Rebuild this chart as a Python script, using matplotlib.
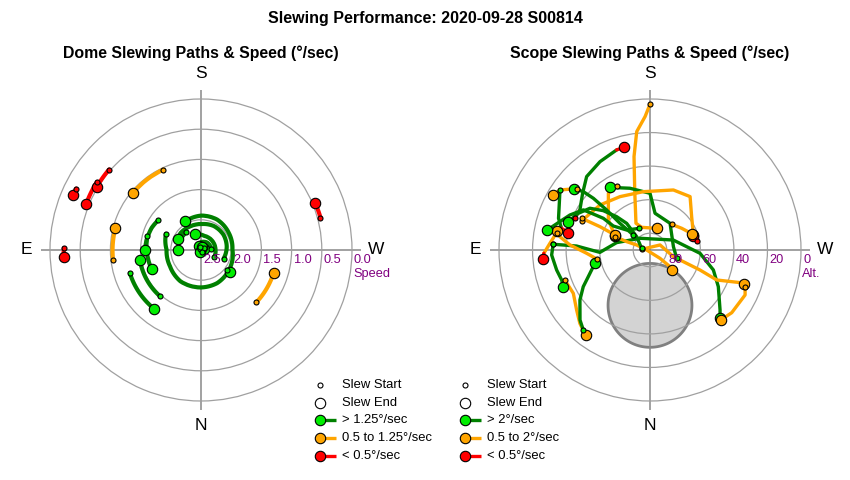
import numpy as np
import matplotlib
matplotlib.use("Agg")
import matplotlib.pyplot as plt
from matplotlib.transforms import offset_copy

plt.rcParams['font.family'] = ['Liberation Sans', 'DejaVu Sans']

# ---------------- data ----------------
title = "Slewing Performance: 2020-09-28 S00814"
dome_title = "Dome Slewing Paths & Speed (°/sec)"
scope_title = "Scope Slewing Paths & Speed (°/sec)"

# Dome slews: azimuth (deg) and speed (deg/sec) along each path
dome_az = [
    [131.2, 121.4], [123.2, 112.0], [116.2, 113.1], [90.8, 87.1], [254.8, 247.5],
    [155.0, 130.2], [83.5, 104.5], [313.4, 287.7],
    [125.0, 114.2, 102.7, 90.3], [104.4, 90.4, 79.5, 68.5], [41.5, 61.0, 80.6], [72.1, 55.0, 38.7],
    [114.8, 90.6, 62.0, 33.4, 1.0, 334.1, 305.4, 269.4, 238.4, 207.8, 181.1, 151.3],
    [290.9, 262.0, 235.9, 208.2, 181.5, 155.7, 129.4, 116.2],
    [297.7, 268.7, 228.7, 193.1, 165.7, 158.4],
    [307.1, 306.9], [140.0, 115.0, 90.6],
    [265.0, 220.0, 180.0, 147.5], [230.0, 253.3], [340.0, 18.4], [170.0, 200.6],
]
dome_speed = [
    [0.477, 0.483], [0.441, 0.451], [0.197, 0.193], [0.228, 0.225], [0.45, 0.456],
    [1.03, 1.03], [1.035, 1.037], [1.239, 1.24],
    [1.638, 1.605, 1.589, 1.572], [1.582, 1.60, 1.613, 1.622], [1.477, 1.476, 1.475], [1.262, 1.258, 1.255],
    [1.86, 1.93, 1.92, 1.88, 1.88, 1.89, 1.93, 1.98, 1.96, 1.93, 1.93, 1.96],
    [2.10, 2.07, 2.05, 2.05, 2.07, 2.07, 2.06, 2.08],
    [2.25, 2.26, 2.26, 2.26, 2.23, 2.21],
    [1.96, 1.89], [2.12, 2.12, 2.12],
    [2.33, 2.34, 2.37, 2.43], [2.44, 2.44], [2.46, 2.47], [2.45, 2.45],
]
dome_thresholds = [0.5, 1.25]

# Scope slews: azimuth (deg), altitude (deg), speed class per segment
scope_az = [
    [180, 177.9, 173.6, 170.3, 165.7, 152.3, 159.8, 197],
    [113.3, 119.7, 130.1, 139.2, 150.5, 161.6, 166],
    [287.4, 261.9, 216.9, 187.8, 180, 162, 147.4],
    [152.6, 143.7, 125.8, 112.3],
    [113, 132, 150.6, 173.5, 201.3, 216.9, 231.3, 250.9],
    [258.8, 251.4],
    [220.2, 235.6, 249.3],
    [93.4, 93.1, 87.3, 102.4, 139.4, 246.8, 273.8, 287.5, 298.2, 310.6, 314.3],
    [291.5, 295.3, 307.5, 314.7],
    [94.6, 243.4, 285.9, 290, 291.8, 294.2, 289.9, 290.1],
    [70.6, 60.5, 50.7, 43.7, 37],
    [39.8, 45, 54.5, 61.2, 66.6, 76.4],
    [80, 87, 93.6, 98.4, 101.8],
    [93.4, 87.1, 77.9, 71.2, 66.7],
    [100.5, 93.8, 88.2, 85],
    [110.9, 109.7, 110.6, 90, 309.8, 309.8, 312.7],
    [153.8, 130.6, 123.2, 124.2, 122.4, 121, 113.6, 107.5, 101],
    [101.3, 135, 138.8, 135, 130.1, 124.8, 117.1, 109.1],
    [114.9, 115, 113.2],
    [123.7, 116.4, 109.1, 103.8, 102],
    [130.2, 123.7, 119.6],
    [132, 131.6, 132.7, 132.4, 131.2, 128.9],
]
scope_alt = [
    [3.1, 10.4, 19.0, 33.5, 53.1, 72.0, 75.6, 76.5],
    [41.3, 41.9, 37.5, 32.2, 29.5, 27.1, 26.9],
    [73.3, 75.9, 70.1, 67.9, 56.2, 51.3, 45.7],
    [46.8, 48.1, 59.4, 67.4],
    [45.7, 49.9, 53.5, 55.0, 51.6, 50.2, 58.2, 62.6],
    [61.2, 63.2],
    [70.0, 67.1, 63.0],
    [32.2, 46.2, 60.1, 69.6, 80.8, 74.9, 60.1, 50.4, 43.8, 35.0, 31.7],
    [29.1, 27.3, 28.6, 30.7],
    [85.0, 83.3, 75.5, 66.7, 57.9, 46.4, 32.9, 30.3],
    [36.2, 37.5, 33.5, 29.5, 26.3],
    [27.9, 31.0, 38.7, 44.6, 49.9, 56.2],
    [58.1, 52.2, 42.2, 35.7, 33.5],
    [32.2, 31.3, 33.1, 34.4, 33.7],
    [33.4, 30.2, 26.7, 25.8],
    [67.7, 75.2, 81.5, 88, 82.2, 74.5, 72.4],
    [75.6, 71.7, 63.9, 56.4, 50.0, 43.6, 37.9, 33.7, 27.6],
    [84.9, 78.8, 68.9, 61.9, 53.6, 46.4, 42.0, 38.5],
    [45.1, 57.1, 67.3],
    [25.5, 29.6, 32.3, 35.7, 40.2],
    [33.3, 25.5, 23.7],
    [76.6, 66.1, 54.8, 44.3, 37.2, 32.0],
]
scope_class = ['ooooooo', 'rggggr', 'gggggg', 'ooo', 'ooooooo', 'r', 'oo',
               'gggggggggg', 'ooo', 'ooooooo', 'oooo', 'ggggg', 'oooo', 'gggg',
               'oor', 'oooooo', 'gggggggg', 'ggggggg', 'oo', 'gggr', 'oo', 'ggggg']

# excluded zone (grey disc) in the scope plot
zone_az, zone_alt, zone_radius = 0.0, 57.0, 25.0

dome_ticks = [2.5, 2.0, 1.5, 1.0, 0.5, 0.0]
scope_ticks = [80, 60, 40, 20, 0]
dome_legend = ['> 1.25°/sec', '0.5 to 1.25°/sec', '< 0.5°/sec']
scope_legend = ['> 2°/sec', '0.5 to 2°/sec', '< 0.5°/sec']

# ---------------- style ----------------
COL = {'g': ('#008000', '#00ee00'), 'o': ('#ffa500', '#ffa500'), 'r': ('#ff0000', '#ff0000')}
PURPLE = '#800080'
W, H = 850, 480

fig = plt.figure(figsize=(8.5, 4.8), dpi=100)
fig.patch.set_facecolor('white')


def make_axes(cx, top, outer):
    ax = fig.add_axes([(cx - 160) / W, (H - 250 - 160) / H, 320 / W, 320 / H],
                      projection='polar')
    ax.set_theta_zero_location('S')
    ax.set_theta_direction(-1)
    ax.set_ylim(top, outer)
    ax.set_xticks(np.radians([0, 90, 180, 270]))
    ax.set_xticklabels([])
    ax.spines['polar'].set_visible(False)
    ax.xaxis.grid(True, color='#888888', lw=1.1)
    ax.yaxis.grid(True, color='#a0a0a0', lw=0.9)
    ax.set_axisbelow('line')
    ax.tick_params(length=0)
    for s, x, y in [('S', 0.5, 1.05), ('N', 0.5, -0.047), ('E', -0.047, 0.5), ('W', 1.047, 0.5)]:
        ax.text(x, y, s, transform=ax.transAxes, ha='center', va='center', fontsize=12.5)
    return ax


def draw_slew(ax, az, val, cls, lw, arcs):
    th = np.unwrap(np.radians(az))
    val = np.asarray(val, float)
    i, n = 0, len(cls)
    while i < n:
        j = i
        while j + 1 < n and cls[j + 1] == cls[i]:
            j += 1
        ln, = ax.plot(th[i:j + 2], val[i:j + 2], color=COL[cls[i]][0], lw=lw,
                      solid_capstyle='round', solid_joinstyle='round', zorder=2)
        if arcs:
            ln.get_path()._interpolation_steps = 30
        i = j + 1
    ax.plot(th[-1], val[-1], 'o', ms=7.5, mfc=COL[cls[-1]][1], mec='black', mew=0.8, zorder=3)
    ax.plot(th[0], val[0], 'o', ms=3.6, mfc=COL[cls[0]][1], mec='black', mew=0.8, zorder=4)


def tick_labels(ax, vals, fmt, unit):
    tr = offset_copy(ax.transData, x=2, y=-4, units='dots')
    for v in vals:
        ax.text(np.radians(270), v, fmt.format(v), transform=tr, ha='left', va='top',
                color=PURPLE, fontsize=9.2, zorder=6)
    tr2 = offset_copy(ax.transData, x=1, y=-18, units='dots')
    ax.text(np.radians(270), vals[-1], unit, transform=tr2, ha='left', va='top',
            color=PURPLE, fontsize=9.2, zorder=6)


# ----- dome -----
axd = make_axes(201, 2.5, 2.5 - 2.5 * 160 / 151)
axd.set_yticks(dome_ticks[1:])
axd.set_yticklabels([])
for az, sp in zip(dome_az, dome_speed):
    cls = ''.join('g' if s > dome_thresholds[1] else ('o' if s >= dome_thresholds[0] else 'r')
                  for s in sp[:-1])
    draw_slew(axd, az, sp, cls, 3.0, True)
tick_labels(axd, dome_ticks, '{:.1f}', 'Speed')

# ----- scope -----
axs = make_axes(650, 90, 90 - 90 * 160 / 151)
axs.set_yticks(scope_ticks)
axs.set_yticklabels([])
t = np.linspace(0, 2 * np.pi, 240)
r0 = 90 - zone_alt
cx, cy = r0 * np.cos(np.radians(zone_az)), r0 * np.sin(np.radians(zone_az))
px, py = cx + zone_radius * np.cos(t), cy + zone_radius * np.sin(t)
axs.fill(np.arctan2(py, px), 90 - np.hypot(px, py), facecolor='#d3d3d3',
         edgecolor='#808080', lw=2, zorder=1)
for az, alt, cls in zip(scope_az, scope_alt, scope_class):
    draw_slew(axs, az, alt, cls, 2.4, False)
tick_labels(axs, scope_ticks, '{:d}', 'Alt.')

# ----- titles -----
fig.text(0.5, 1 - 18 / H, title, ha='center', va='center', fontsize=11.5, fontweight='bold')
fig.text(201 / W, 1 - 53 / H, dome_title, ha='center', va='center', fontsize=11.4, fontweight='bold')
fig.text(650 / W, 1 - 53 / H, scope_title, ha='center', va='center', fontsize=11.4, fontweight='bold')

# ----- legends -----
lax = fig.add_axes([0, 0, 1, 1], zorder=10)
lax.set_xlim(0, W)
lax.set_ylim(H, 0)
lax.axis('off')
rows = [385, 402.5, 420, 438, 456]


def legend_block(x0, labels):
    lax.plot(x0, rows[0], 'o', ms=3.6, mfc='white', mec='black', mew=0.8)
    lax.plot(x0, rows[1], 'o', ms=7.5, mfc='white', mec='black', mew=0.8)
    for k, c in enumerate('gor'):
        y = rows[k + 2]
        lax.plot([x0, x0 + 16], [y, y], color=COL[c][0], lw=2.4, solid_capstyle='butt')
        lax.plot(x0, y, 'o', ms=7.5, mfc=COL[c][1], mec='black', mew=0.8)
    for y, txt in zip(rows, ['Slew Start', 'Slew End'] + labels):
        lax.text(x0 + 22, y, txt, ha='left', va='center', fontsize=9.4)


legend_block(320.5, dome_legend)
legend_block(465, scope_legend)

fig.savefig('out.png', dpi=100, facecolor='white')
